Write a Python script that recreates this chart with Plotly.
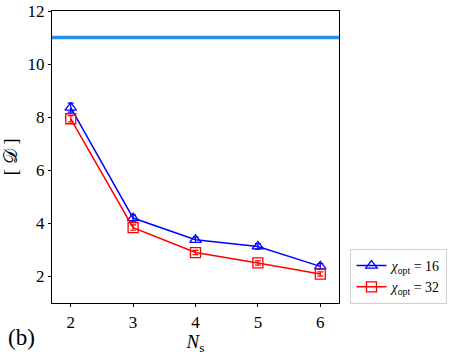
import plotly.graph_objects as go

Ns = [2, 3, 4, 5, 6]
d16 = [8.36, 4.20, 3.38, 3.13, 2.38]
e16 = [0.17, 0.12, 0.10, 0.10, 0.10]
d32 = [7.94, 3.84, 2.90, 2.51, 2.09]
e32 = [0.12, 0.10, 0.08, 0.08, 0.08]
ref_level = 11.0
x_ticks = [2, 3, 4, 5, 6]
y_ticks = [2, 4, 6, 8, 10, 12]

font_family = "Liberation Serif"

fig = go.Figure()
fig.add_trace(go.Scatter(
    x=[1.7, 6.3], y=[ref_level, ref_level], mode="lines",
    line=dict(color="#2a8de8", width=3.5), showlegend=False, hoverinfo="skip"))
fig.add_trace(go.Scatter(
    x=Ns, y=d16, mode="lines+markers", name="<i>χ</i><sub>opt</sub> = 16",
    line=dict(color="blue", width=1.5),
    marker=dict(symbol="triangle-up-open", size=10, color="blue", line=dict(width=1.3)),
    error_y=dict(type="data", array=e16, color="blue", thickness=1.2, width=3)))
fig.add_trace(go.Scatter(
    x=Ns, y=d32, mode="lines+markers", name="<i>χ</i><sub>opt</sub> = 32",
    line=dict(color="red", width=1.5),
    marker=dict(symbol="square-open", size=10, color="red", line=dict(width=1.3)),
    error_y=dict(type="data", array=e32, color="red", thickness=1.2, width=3)))

axis_common = dict(showline=True, linecolor="black", linewidth=1.2, mirror=True,
                   ticks="outside", ticklen=3, tickcolor="black", showgrid=False,
                   zeroline=False, automargin=False,
                   tickfont=dict(family=font_family, size=17, color="black"))

fig.update_layout(
    width=458, height=355,
    margin=dict(l=52, r=112, t=11, b=52),
    plot_bgcolor="white", paper_bgcolor="white",
    font=dict(family=font_family, color="black"),
    xaxis=dict(range=[1.7, 6.3], tickvals=x_ticks,
               title=dict(text="<i>N</i><sub>s</sub>", font=dict(size=19, family=font_family), standoff=4),
               **axis_common),
    yaxis=dict(range=[1, 12], tickvals=y_ticks,
               title=dict(text="[ 𝒟 ]", font=dict(size=19, family=font_family), standoff=8),
               **axis_common),
    legend=dict(x=1.04, y=0.185, xanchor="left", yanchor="top",
                bordercolor="#d0d0d0", borderwidth=1, bgcolor="white",
                font=dict(size=14, family=font_family, color="black"), tracegroupgap=0,
                itemwidth=30),
    annotations=[dict(text="(b)", x=-0.16, y=-0.168, xref="paper", yref="paper",
                      xanchor="left", yanchor="bottom", showarrow=False,
                      font=dict(size=23, family=font_family, color="black"))],
)

fig.write_html("out.html", config={"displayModeBar": False},
               post_script="document.body.style.margin='0px';document.body.style.padding='0px';")
